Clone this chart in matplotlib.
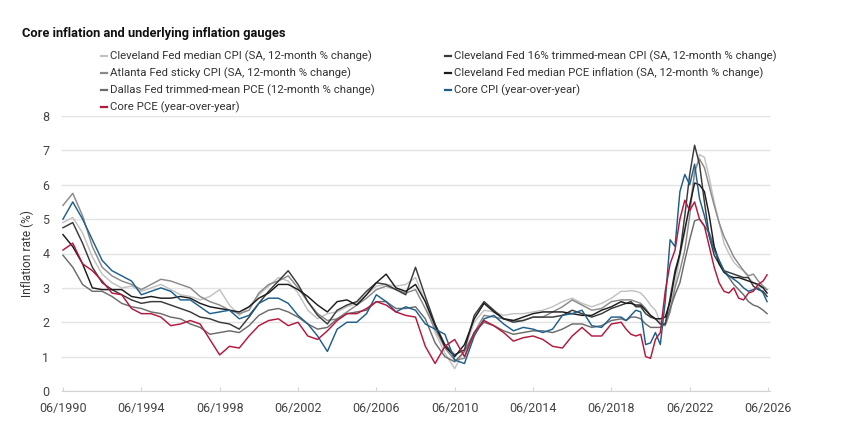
import numpy as np
import matplotlib
matplotlib.use("Agg")
import matplotlib.pyplot as plt

plt.rcParams['font.family'] = ['Roboto', 'DejaVu Sans']

# dates as decimal years: half-yearly to 2019, quarterly after, last point mid-2026
dates = np.concatenate([np.arange(1990.5, 2019.01, 0.5),
                        np.arange(2019.25, 2026.26, 0.25),
                        [2026.45]])

tick_years = np.arange(1990.5, 2026.6, 4)
tick_labels = ["06/%d" % int(y) for y in tick_years]

med_cpi = [4.9, 5.05, 4.6, 3.9, 3.4, 3.15, 3.0, 3.05, 2.9, 3.0, 3.1, 2.95, 2.8, 2.75, 2.65,
           2.75, 2.95, 2.5, 2.2, 2.45, 2.8, 3.05, 3.3, 3.2, 2.85, 2.35, 2.1, 2.25, 2.3,
           2.45, 2.55, 2.8, 3.05, 3.1, 3.05, 3.1, 3.3, 2.6, 1.7, 1.1, 0.65, 1.2, 2.0,
           2.35, 2.3, 2.2, 2.25, 2.25, 2.3, 2.35, 2.45, 2.6, 2.7, 2.55, 2.45, 2.55, 2.7, 2.9,
           2.9, 2.92, 2.9, 2.85, 2.7, 2.5, 2.35, 2.0, 1.95, 2.4, 3.1, 3.9, 4.6, 5.4, 6.3,
           6.88, 6.8, 6.2, 5.5, 4.9, 4.3, 4.0, 3.75, 3.6, 3.5, 3.3, 3.15, 3.05, 3.0,
           2.95]
trim_cpi = [4.75, 4.9, 4.3, 3.6, 3.15, 2.95, 2.8, 2.65, 2.55, 2.6, 2.6, 2.5, 2.4, 2.3, 2.15,
            2.1, 2.0, 1.95, 1.8, 2.15, 2.55, 2.9, 3.2, 3.5, 3.1, 2.6, 2.2, 1.95, 2.35,
            2.5, 2.6, 2.9, 3.15, 3.1, 2.95, 2.8, 3.6, 2.75, 1.95, 1.35, 1.05, 1.2, 2.2,
            2.6, 2.35, 2.1, 2.0, 2.05, 2.15, 2.15, 2.15, 2.2, 2.35, 2.25, 2.15, 2.25, 2.4, 2.5,
            2.55, 2.6, 2.45, 2.45, 2.25, 2.15, 2.1, 1.95, 1.95, 2.7, 3.5, 4.0, 5.1, 6.3, 7.15,
            6.6, 5.5, 4.5, 3.95, 3.7, 3.5, 3.45, 3.4, 3.35, 3.3, 3.3, 3.05, 2.95, 2.9,
            2.75]
sticky_cpi = [5.4, 5.75, 5.1, 4.2, 3.6, 3.35, 3.2, 3.1, 2.95, 3.1, 3.25, 3.2, 3.1, 3.0, 2.75,
              2.6, 2.5, 2.35, 2.25, 2.35, 2.85, 3.1, 3.2, 3.35, 3.0, 2.6, 2.25, 2.05, 2.1,
              2.3, 2.5, 2.7, 2.95, 3.05, 2.95, 2.85, 2.95, 2.4, 1.8, 1.25, 0.9, 0.95, 1.7,
              2.2, 2.15, 2.1, 2.05, 2.05, 2.15, 2.15, 2.3, 2.45, 2.65, 2.5, 2.35, 2.4, 2.6, 2.65,
              2.65, 2.65, 2.6, 2.55, 2.4, 2.2, 2.1, 1.95, 1.9, 2.3, 3.0, 3.5, 4.1, 5.1, 6.4,
              6.75, 6.5, 5.95, 5.4, 4.9, 4.5, 4.2, 3.9, 3.7, 3.5, 3.35, 3.4, 3.2, 3.05,
              2.95]
med_pce = [4.55, 4.2, 3.7, 3.0, 2.95, 2.95, 2.95, 2.75, 2.7, 2.75, 2.7, 2.7, 2.75, 2.7, 2.55,
           2.45, 2.4, 2.35, 2.3, 2.45, 2.7, 2.85, 3.1, 3.1, 2.95, 2.75, 2.5, 2.3, 2.6,
           2.65, 2.5, 2.8, 3.15, 3.4, 3.0, 2.9, 3.1, 2.6, 1.9, 1.3, 1.0, 1.35, 2.1,
           2.55, 2.3, 2.1, 2.05, 2.15, 2.25, 2.3, 2.3, 2.3, 2.25, 2.2, 2.2, 2.35, 2.45, 2.6,
           2.55, 2.55, 2.5, 2.5, 2.35, 2.2, 2.1, 2.1, 2.15, 2.6, 3.4, 4.0, 4.7, 5.4, 6.05,
           6.0, 5.8, 5.1, 4.2, 3.7, 3.45, 3.35, 3.3, 3.3, 3.25, 3.2, 3.15, 3.1, 3.0,
           2.85]
dallas_pce = [3.95, 3.6, 3.1, 2.9, 2.9, 2.75, 2.55, 2.45, 2.4, 2.3, 2.25, 2.15, 2.1, 1.95, 1.85,
              1.65, 1.7, 1.75, 1.7, 1.9, 2.2, 2.35, 2.4, 2.3, 2.15, 1.95, 1.8, 1.85, 2.1,
              2.25, 2.3, 2.35, 2.6, 2.6, 2.4, 2.4, 2.45, 2.1, 1.4, 1.0, 0.85, 1.15, 1.7,
              2.0, 1.9, 1.75, 1.65, 1.7, 1.75, 1.75, 1.7, 1.8, 1.95, 1.95, 1.85, 1.9, 2.05, 2.1,
              2.05, 2.15, 2.15, 2.1, 1.95, 1.85, 1.85, 1.85, 1.95, 2.4, 2.8, 3.15, 3.8, 4.4, 4.95,
              5.0, 4.8, 4.6, 4.2, 3.8, 3.5, 3.3, 3.1, 2.95, 2.8, 2.6, 2.5, 2.45, 2.35,
              2.25]
core_cpi = [5.0, 5.5, 5.0, 4.4, 3.8, 3.5, 3.35, 3.2, 2.8, 2.9, 3.0, 2.9, 2.65, 2.65, 2.45,
            2.25, 2.3, 2.35, 2.1, 2.2, 2.55, 2.7, 2.7, 2.55, 2.2, 1.95, 1.6, 1.15, 1.8,
            2.0, 2.0, 2.25, 2.8, 2.6, 2.3, 2.45, 2.35, 1.95, 1.8, 1.65, 0.9, 0.8, 1.6,
            2.1, 2.2, 1.95, 1.75, 1.85, 1.8, 1.7, 1.8, 2.2, 2.25, 2.35, 1.9, 1.85, 2.15, 2.15,
            2.05, 2.2, 2.35, 2.3, 1.35, 1.4, 1.7, 1.35, 2.6, 4.4, 4.2, 5.8, 6.3, 6.0, 6.6,
            5.6, 5.1, 4.5, 4.1, 3.8, 3.5, 3.35, 3.25, 3.15, 3.0, 2.9, 2.95, 3.0, 2.85,
            2.6]
core_pce = [4.1, 4.3, 3.7, 3.5, 3.2, 2.85, 2.8, 2.4, 2.25, 2.25, 2.15, 1.9, 1.95, 2.05, 1.95,
            1.5, 1.05, 1.3, 1.25, 1.6, 1.9, 2.05, 2.1, 1.9, 2.0, 1.6, 1.5, 1.75, 2.05,
            2.25, 2.25, 2.4, 2.6, 2.5, 2.3, 2.2, 2.15, 1.3, 0.8, 1.3, 1.5, 1.0, 1.7,
            2.05, 1.9, 1.7, 1.45, 1.55, 1.6, 1.5, 1.3, 1.25, 1.6, 1.85, 1.6, 1.6, 1.95, 2.0,
            1.8, 1.65, 1.6, 1.65, 1.0, 0.95, 1.5, 1.7, 2.9, 3.7, 4.1, 5.0, 5.55, 5.25, 5.5,
            5.0, 4.8, 4.2, 3.6, 3.15, 2.9, 2.85, 3.0, 2.7, 2.65, 2.85, 2.9, 3.1, 3.2,
            3.38]

labels = ["Cleveland Fed median CPI (SA, 12-month % change)",
          "Atlanta Fed sticky CPI (SA, 12-month % change)",
          "Dallas Fed trimmed-mean PCE (12-month % change)",
          "Core PCE (year-over-year)",
          "Cleveland Fed 16% trimmed-mean CPI (SA, 12-month % change)",
          "Cleveland Fed median PCE inflation (SA, 12-month % change)",
          "Core CPI (year-over-year)"]
series = [med_cpi, sticky_cpi, dallas_pce, core_pce, trim_cpi, med_pce, core_cpi]
colors = ['#c2c2c2', '#8a8a8a', '#6c6c6c', '#b5173d', '#3a3a3a', '#1c1c1c', '#1f5f8b']
# drawing order: greys first, then blue, red on top
draw_order = [0, 1, 2, 4, 5, 6, 3]

fig = plt.figure(figsize=(8.42, 4.32), dpi=100)
ax = fig.add_axes([62 / 842, 1 - 391 / 432, 708 / 842, 275 / 432])

lines = {}
for i in draw_order:
    ln, = ax.plot(dates, series[i], color=colors[i], lw=1.05, label=labels[i],
                  solid_joinstyle='round')
    lines[i] = ln

ax.set_xlim(1990.45, 2026.6)
ax.set_ylim(0, 8)
ax.set_yticks(range(0, 9))
ax.set_xticks(tick_years)
ax.set_xticklabels(tick_labels)
ax.grid(axis='y', color='#e3e3e3', lw=1)
ax.set_axisbelow(True)
for s in ['top', 'right', 'left']:
    ax.spines[s].set_visible(False)
ax.spines['bottom'].set_color('#d4d4d4')
ax.tick_params(axis='y', length=0, pad=9, labelsize=9, labelcolor='#444444')
ax.tick_params(axis='x', direction='in', length=3, color='#d4d4d4', pad=8,
               labelsize=9, labelcolor='#444444')
ax.set_ylabel("Inflation rate (%)", fontsize=8.6, color='#333333', labelpad=6)

fig.text(22 / 842, 1 - 33 / 432, "Core inflation and underlying inflation gauges",
         fontsize=9.3, fontweight='bold', color='#111111', va='center', ha='left')

# two legend columns, placed separately
leg_kw = dict(loc='upper left', frameon=False, fontsize=8.2, handlelength=0.55,
              handletextpad=0.25, labelspacing=0.47, borderaxespad=0, borderpad=0)
leg1 = fig.legend([lines[i] for i in range(4)], labels[:4],
                  bbox_to_anchor=(101 / 842, 1 - 51 / 432), **leg_kw)
leg2 = fig.legend([lines[i] for i in range(4, 7)], labels[4:],
                  bbox_to_anchor=(445 / 842, 1 - 51 / 432), **leg_kw)
for leg in (leg1, leg2):
    for t in leg.get_texts():
        t.set_color('#333333')
    for h in leg.legend_handles:
        h.set_linewidth(1.6)

fig.savefig("out.png", dpi=100)
